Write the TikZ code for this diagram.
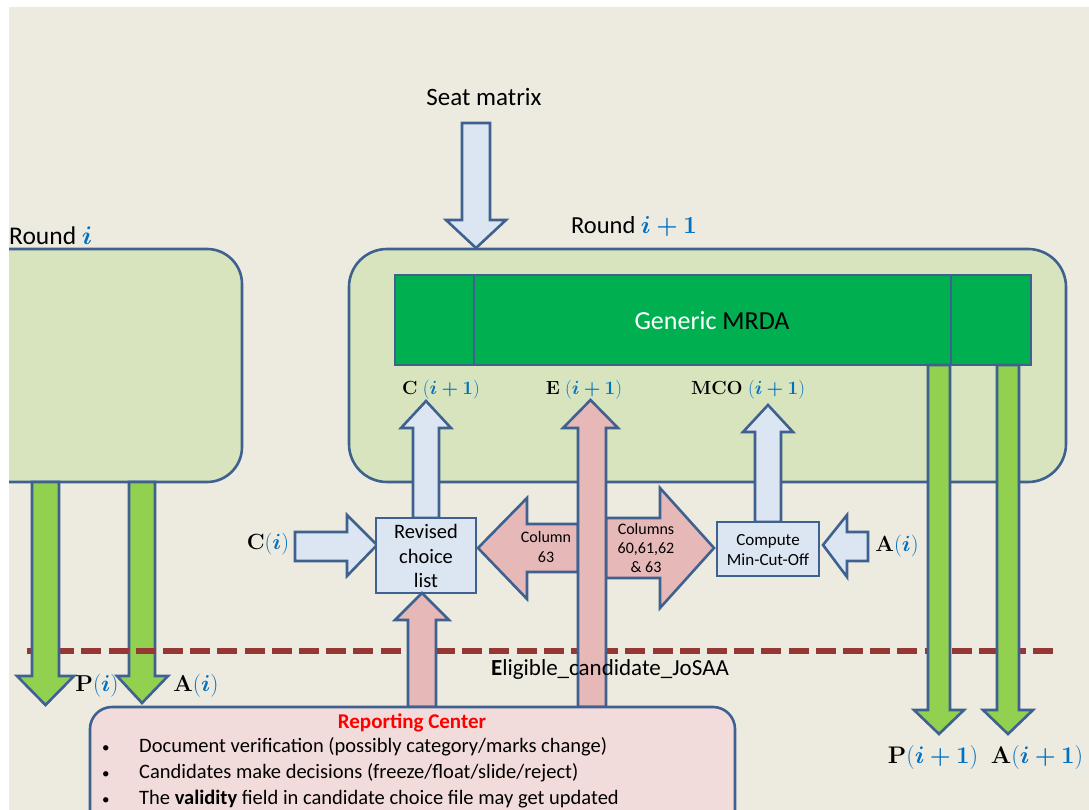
\documentclass[tikz,border=0pt]{standalone}
\usepackage{fix-cm}
\usepackage{amsmath,bm}
\usepackage[no-math]{fontspec}
\setmainfont{Carlito}
\definecolor{bg}{HTML}{EDEBE0}
\definecolor{lgreen}{HTML}{D7E4BD}
\definecolor{bord}{HTML}{3F6190}
\definecolor{mrda}{HTML}{00B050}
\definecolor{agreen}{HTML}{92D050}
\definecolor{lblue}{HTML}{DCE6F2}
\definecolor{pink}{HTML}{E6B9B8}
\definecolor{rcfill}{HTML}{F2DCDB}
\definecolor{dred}{HTML}{953735}
\definecolor{tblue}{HTML}{0070C0}
\newcommand\mlab[2]{$\mathbf{#1}\textcolor{tblue}{(\bm{#2})}$}
\newcommand\mlabs[2]{$\mathbf{#1}\;\textcolor{tblue}{(\bm{#2})}$}
\newcommand\fsz[1]{\fontsize{#1pt}{\dimexpr #1pt*6/5\relax}\selectfont}
\tikzset{
  brd/.style={draw=bord,line width=2.6pt,line join=miter},
  roundbox/.style={brd,fill=lgreen},
  garrow/.style={brd,fill=agreen},
  barrow/.style={brd,fill=lblue},
  parrow/.style={brd,fill=pink},
  txt/.style={inner sep=0pt,align=center},
  fs/.style={font=\fsz{#1}},
}
\begin{document}
\begin{tikzpicture}[x=1pt,y=-1pt]
\useasboundingbox (0,0) rectangle (1089,810);
\fill[white] (0,0) rectangle (1089,810);
\begin{scope}
\clip (0,0) rectangle (1089,810);
\fill[bg] (9,7) rectangle (1089,810);
% round boxes
\filldraw[roundbox,rounded corners=35] (9,249) -- (242,249) -- (242,482) -- (9,482);
\draw[roundbox,rounded corners=38] (349,249) rectangle (1066,482);
% MRDA
\draw[brd,fill=mrda] (395,275) rectangle (1031,365);
\draw[brd] (474,275) -- (474,365) (951,275) -- (951,365);
\node[txt,fs=26,text=white] (mrdatxt) at (712,321) {Generic \textcolor{black}{MRDA}};
% titles
\node[txt,fs=25.5,anchor=west] (roundi) at (9,236) {Round \textcolor{tblue}{$\bm{i}$}};
\node[txt,fs=24.5] (roundii) at (634,227) {Round \textcolor{tblue}{$\bm{i+1}$}};
\node[txt,fs=25] (seat) at (484,97) {Seat matrix};
% seat matrix arrow
\draw[barrow] (462,123) -- (490,123) -- (490,220) -- (506,220) -- (476,248) -- (446,220) -- (462,220) -- cycle;
% left green arrow 2, dashed line, left green arrow 1
\draw[garrow] (129,482) -- (155,482) -- (155,676) -- (168,676) -- (142,703) -- (117,676) -- (129,676) -- cycle;
\draw[dred,line width=6pt,dash pattern=on 20pt off 7.2pt] (27,651) -- (1058,651);
\draw[garrow] (32,482) -- (59,482) -- (59,676) -- (74,676) -- (45.5,705) -- (17,676) -- (32,676) -- cycle;
% right green arrows
\draw[garrow] (928,365) -- (950,365) -- (950,710) -- (964,710) -- (939,734) -- (914,710) -- (928,710) -- cycle;
\draw[garrow] (997,365) -- (1019,365) -- (1019,710) -- (1033,710) -- (1008,734) -- (983,710) -- (997,710) -- cycle;
% pink column arrows
\draw[parrow] (578,524) -- (527,524) -- (527,498) -- (478,548) -- (527,599) -- (527,572) -- (578,572) -- cycle;
\draw[parrow] (606,518) -- (660,518) -- (660,488) -- (714,548) -- (660,608) -- (660,578) -- (606,578) -- cycle;
% pink E arrow
\draw[parrow] (578,707) -- (578,428) -- (563,428) -- (590.5,400) -- (618,428) -- (606,428) -- (606,707) -- cycle;
% light blue arrows
\draw[barrow] (413,518) -- (413,428) -- (401,428) -- (426,401) -- (451,428) -- (439,428) -- (439,518) -- cycle;
\draw[barrow] (755,522) -- (755,432) -- (743,432) -- (768,405) -- (793,432) -- (781,432) -- (781,522) -- cycle;
\draw[barrow] (295,532) -- (347,532) -- (347,515) -- (377,545) -- (347,576) -- (347,561) -- (295,561) -- cycle;
\draw[barrow] (868,532) -- (847,532) -- (847,515) -- (823,545) -- (847,577) -- (847,561) -- (868,561) -- cycle;
% boxes
\draw[barrow] (376,518) rectangle (476,593);
\node[txt,fs=20.5] (revised) at (426,556) {Revised\\[-0.5pt]choice\\[-0.5pt]list};
\draw[barrow] (717,522) rectangle (819,576);
\node[txt,fs=17] (compute) at (768,550) {Compute\\Min-Cut-Off};
\node[txt,fs=16] (col63) at (546,547) {Column\\63};
\node[txt,fs=16] (cols) at (646,548) {Columns\\60,61,62\\\& 63};
% pink bottom arrow
\draw[parrow] (408,707) -- (408,620) -- (395,620) -- (422,593) -- (449,620) -- (436,620) -- (436,707) -- cycle;
% reporting center
\draw[brd,fill=rcfill,rounded corners=22] (90,707) rectangle (735,850);
\node[txt,font={\fsz{21}\bfseries},text=red] (rctitle) at (412,723) {Reporting Center};
\node[txt,fs=20.5,anchor=west,align=left] (rcbul) at (102,773) {%
\makebox[37pt][l]{\fsz{15}\textbullet}Document verification (possibly category/marks change)\\[1.5pt]
\makebox[37pt][l]{\fsz{15}\textbullet}Candidates make decisions (freeze/float/slide/reject)\\[1.5pt]
\makebox[37pt][l]{\fsz{15}\textbullet}The \textbf{validity} field in candidate choice file may get updated};
\node[txt,fs=23] (elig) at (610,669) {\textbf{E}ligible\_candidate\_JoSAA};
% math labels
\node[txt,fs=19] (ci1) at (441,390) {\mlabs{C}{i+1}};
\node[txt,fs=19] (ei1) at (584,390) {\mlabs{E}{i+1}};
\node[txt,fs=19] (mco1) at (748,390) {\mlabs{MCO}{i+1}};
\node[txt,fs=22] (ci) at (268,544) {\mlab{C}{i}};
\node[txt,fs=22] (ai) at (897,546) {\mlab{A}{i}};
\node[txt,fs=23] (pi) at (97,686) {\mlab{P}{i}};
\node[txt,fs=23] (aileft) at (196,686) {\mlab{A}{i}};
\node[txt,fs=24] (pi1) at (933,757) {\mlab{P}{i+1}};
\node[txt,fs=24] (ai1) at (1037,757) {\mlab{A}{i+1}};
\end{scope}
\end{tikzpicture}
\end{document}
